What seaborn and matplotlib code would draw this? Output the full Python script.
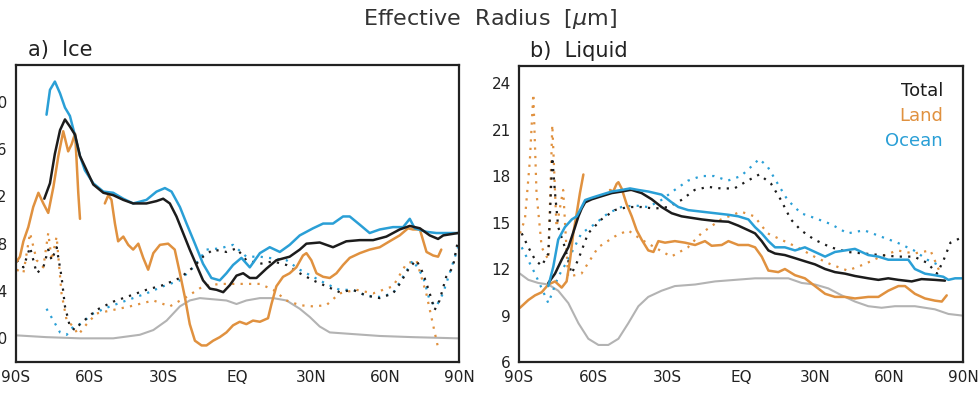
"""Effective radius of ice and liquid clouds by latitude, total/land/ocean."""

import matplotlib.pyplot as plt
import seaborn as sns
import numpy as np

# ---------------- a) Ice ----------------
ice_ocean_lat = [-77.6, -76.2, -74.2, -72.1, -70.1, -68.1, -66.0, -64.0, -62.0, -58.6, -54.5, -50.5,
                 -46.4, -42.4, -37.0, -32.9, -29.5, -26.8, -23.4, -20.7, -17.3, -14.0, -10.6, -7.2,
                 -4.5, -1.8, 1.6, 5.0, 9.1, 13.1, 17.2, 21.2, 25.3, 30.7, 34.8, 38.8, 42.9, 45.6,
                 49.7, 53.7, 57.8, 63.2, 67.3, 70.0, 72.0, 76.8, 80.8, 84.8, 89.6]
ice_ocean = [38.9, 41.0, 41.7, 40.7, 39.5, 38.8, 37.1, 35.4, 34.2, 33.1, 32.4, 32.3,
             31.8, 31.4, 31.7, 32.4, 32.7, 32.4, 31.1, 29.7, 28.0, 26.3, 25.1, 24.9,
             25.5, 26.2, 26.8, 26.0, 27.2, 27.7, 27.3, 27.9, 28.7, 29.3, 29.7, 29.7, 30.3, 30.3,
             29.6, 28.9, 29.2, 29.4, 29.4, 30.1, 29.3, 29.0, 28.9, 28.9, 28.9]

ice_total_lat = [-78.5, -76.2, -74.2, -72.1, -70.1, -68.1, -66.0, -64.0, -58.6, -54.5, -50.5, -46.4,
                 -42.4, -37.0, -32.9, -30.2, -27.5, -24.8, -22.1, -19.4, -16.7, -14.0, -11.2, -8.5,
                 -5.8, -3.1, -0.4, 2.3, 5.0, 7.7, 11.8, 15.8, 21.2, 25.3, 28.0, 33.4, 38.8, 44.2,
                 49.7, 55.1, 60.5, 65.9, 70.0, 74.1, 78.1, 81.5, 83.6, 89.6]
ice_total = [31.8, 33.1, 35.6, 37.6, 38.5, 37.9, 37.2, 35.4, 33.0, 32.3, 32.1, 31.7,
             31.4, 31.4, 31.6, 31.8, 31.4, 30.3, 28.9, 27.5, 26.2, 24.9, 24.2, 24.1,
             23.9, 24.5, 25.3, 25.5, 25.1, 25.1, 25.9, 26.6, 26.9, 27.5, 28.0, 28.1, 27.7, 28.2,
             28.3, 28.3, 28.6, 29.2, 29.5, 29.3, 28.7, 28.4, 28.7, 28.9]

ice_land_lat_1 = [-89.7, -88.4, -87.0, -85.0, -83.0, -80.9, -78.9, -76.9, -74.8, -72.8, -70.8,
                  -68.8, -67.4, -66.0, -65.4, -64.7, -64.0]
ice_land_1 = [26.5, 26.9, 28.2, 29.4, 31.1, 32.3, 31.4, 30.6, 32.8, 35.4, 37.5,
              35.8, 36.4, 37.3, 35.1, 32.3, 30.1]
ice_land_lat_2 = [-53.9, -52.5, -51.2, -49.8, -48.5, -46.4, -44.4, -42.4, -40.3, -38.3, -36.3, -34.2,
                  -31.5, -28.2, -25.5, -23.4, -21.4, -19.4, -17.3, -14.6, -12.6, -9.9, -7.2, -4.5,
                  -1.8, 0.9, 3.6, 6.3, 9.1, 12.4, 13.8, 15.8, 18.5, 21.2, 23.9, 26.6, 28.0, 30.0,
                  32.1, 34.8, 37.5, 40.2, 42.9, 45.6, 49.7, 53.7, 57.8, 61.8, 65.9, 69.3, 71.3,
                  74.1, 76.8, 79.5, 81.5, 82.8]
ice_land_2 = [31.4, 32.1, 31.7, 29.7, 28.2, 28.6, 27.9, 27.5, 28.0, 26.8, 25.8, 27.2,
              27.9, 28.0, 27.5, 25.5, 23.5, 21.2, 19.8, 19.4, 19.4, 19.8, 20.1, 20.5,
              21.1, 21.4, 21.2, 21.5, 21.4, 21.7, 22.9, 24.4, 25.2, 25.5, 26.0, 27.0, 27.2, 26.6,
              25.5, 25.2, 25.1, 25.5, 26.2, 26.8, 27.2, 27.5, 27.7, 28.2, 28.7, 29.3, 29.2,
              29.2, 27.3, 27.0, 26.9, 27.5]

ice_grey_lat = [-89.7, -77.6, -64.0, -50.5, -39.7, -34.2, -28.8, -23.4, -19.4, -15.3, -9.9, -4.5,
                -0.4, 3.6, 9.1, 14.5, 19.9, 25.3, 29.4, 33.4, 37.5, 44.2, 57.8, 71.3, 89.6]
ice_grey = [20.25, 20.1, 20.0, 20.0, 20.3, 20.7, 21.5, 22.7, 23.2, 23.4, 23.3, 23.2,
            22.9, 23.2, 23.4, 23.4, 23.2, 22.5, 21.8, 21.0, 20.5, 20.4, 20.2, 20.1, 20.0]

ice_total_dot_lat = [-89.7, -87.0, -84.3, -81.6, -78.9, -76.9, -75.5, -73.5, -71.5, -70.1, -68.1, -66.0,
                     -64.0, -57.3, -50.5, -43.7, -37.0, -30.2, -23.4, -18.0, -14.0, -9.9, -4.5, -0.4,
                     3.6, 9.1, 14.5, 19.9, 25.3, 30.7, 36.1, 41.5, 46.9, 52.4, 57.8, 63.2, 65.9, 69.9,
                     72.7, 75.4, 78.1, 80.1, 82.1, 84.8, 87.5, 89.6]
ice_total_dot = [26.6, 26.0, 27.7, 25.5, 26.0, 27.5, 26.6, 27.7, 25.2, 22.7, 21.0, 20.7,
                 21.2, 22.4, 23.1, 23.6, 24.1, 24.5, 25.1, 26.0, 26.9, 27.5, 27.3, 27.6,
                 26.6, 26.3, 26.5, 26.2, 25.5, 24.9, 24.4, 23.9, 24.1, 23.6, 23.4, 23.8, 24.6, 26.0,
                 26.6, 25.5, 23.8, 22.4, 23.2, 25.2, 26.0, 28.3]
ice_ocean_dot_lat = [-77.6, -74.8, -72.1, -69.4, -66.7, -64.0, -58.6, -51.8, -45.1, -37.0, -30.2, -23.4,
                     -18.0, -12.6, -7.2, -1.8, 3.6, 9.1, 14.5, 19.9, 25.3, 30.7, 36.1, 41.5, 46.9,
                     52.4, 57.8, 63.2, 67.2, 71.3, 75.4, 78.1, 80.8, 83.5, 86.2, 89.6]
ice_ocean_dot = [22.5, 21.5, 20.5, 20.3, 21.0, 21.2, 22.1, 22.7, 23.2, 23.8, 24.4, 24.9,
                 26.0, 27.5, 27.6, 27.9, 26.9, 26.9, 26.75, 26.6, 25.8, 25.2, 24.6, 24.1, 24.1,
                 23.6, 23.5, 23.8, 25.2, 26.6, 25.2, 23.2, 22.7, 23.8, 25.5, 27.7]
ice_land_dot_lat = [-89.7, -87.0, -84.3, -81.6, -78.9, -76.9, -75.5, -73.5, -71.5, -69.4, -66.7, -64.7,
                    -61.3, -57.3, -50.5, -43.7, -34.2, -27.5, -20.7, -14.0, -7.2, 0.9, 9.1, 14.5,
                    19.9, 25.3, 30.7, 36.1, 41.5, 48.3, 55.1, 63.2, 68.6, 72.7, 76.7, 79.4, 81.4]
ice_land_dot = [25.8, 25.5, 28.9, 26.6, 26.0, 28.9, 26.6, 28.6, 23.8, 21.5, 21.0, 20.3,
                21.2, 22.1, 22.4, 22.7, 23.2, 22.7, 23.5, 24.4, 24.6, 24.6, 24.6, 24.1,
                23.2, 22.8, 22.7, 22.8, 23.8, 24.1, 23.8, 24.4, 26.3, 26.6, 23.8, 21.2, 19.3]

# ---------------- b) Liquid ----------------
liq_total_lat = [-78.1, -75.4, -72.7, -70.0, -67.3, -65.9, -64.6, -63.2, -60.5, -56.5, -52.4, -48.4,
                 -45.0, -44.3, -40.3, -36.2, -32.2, -28.1, -24.1, -20.0, -15.9, -10.5, -5.1, -1.1,
                 3.0, 5.7, 8.4, 11.1, 13.8, 17.8, 21.9, 25.9, 30.0, 34.1, 38.1, 42.2, 46.2, 51.6,
                 55.7, 59.7, 63.8, 69.2, 73.2, 78.6, 82.7]
liq_total = [11.1, 11.7, 12.6, 13.4, 14.7, 15.4, 15.9, 16.3, 16.5, 16.7, 16.9, 17.0,
             17.1, 17.1, 16.9, 16.5, 16.0, 15.6, 15.4, 15.3, 15.2, 15.1, 15.05, 14.8,
             14.5, 14.3, 13.8, 13.2, 13.0, 12.9, 12.7, 12.5, 12.3, 12.0, 11.8, 11.7, 11.55, 11.4,
             11.3, 11.4, 11.3, 11.2, 11.35, 11.3, 11.25]

liq_ocean_lat = [-78.1, -76.1, -74.1, -71.4, -68.6, -66.6, -64.6, -63.2, -60.5, -56.5, -52.4, -48.4,
                 -45.0, -41.6, -37.6, -32.2, -28.1, -25.4, -21.4, -15.9, -10.5, -5.1, -1.1, 3.0,
                 5.7, 8.4, 11.1, 13.8, 17.8, 21.9, 25.9, 30.0, 34.1, 38.1, 42.2, 46.2, 51.6, 55.7,
                 59.7, 63.8, 67.8, 70.5, 74.6, 78.6, 82.0, 84.1, 86.8, 89.5]
liq_ocean = [10.9, 12.15, 13.9, 14.7, 15.2, 15.4, 16.0, 16.45, 16.6, 16.8, 17.0, 17.1,
             17.2, 17.1, 17.0, 16.8, 16.3, 16.0, 15.8, 15.7, 15.6, 15.5, 15.4, 15.2,
             14.7, 14.3, 13.8, 13.4, 13.4, 13.2, 13.4, 13.1, 12.8, 13.1, 13.2, 13.3, 12.9, 12.8,
             12.6, 12.6, 12.6, 12.0, 11.7, 11.6, 11.5, 11.3, 11.4, 11.4]

liq_land_lat_1 = [-89.6, -86.2, -83.5, -80.8, -78.1, -75.4, -72.7, -70.7, -69.3, -68.0, -66.6,
                  -65.3, -63.9]
liq_land_1 = [9.5, 10.0, 10.3, 10.5, 11.0, 11.2, 10.8, 11.2, 12.6, 14.3, 15.6, 16.9, 18.1]
liq_land_lat_2 = [-53.1, -51.8, -50.4, -49.7, -48.4, -46.4, -44.3, -42.3, -40.3, -37.6, -35.5, -33.5,
                  -30.8, -26.8, -22.7, -18.6, -14.6, -11.9, -7.8, -5.1, -1.1, 3.0, 5.7, 8.4, 11.1,
                  15.1, 17.8, 21.9, 25.9, 30.0, 34.1, 38.1, 42.2, 46.2, 51.6, 55.7, 59.7, 63.8,
                  66.5, 70.5, 74.6, 78.6, 81.4, 83.4]
liq_land_2 = [17.1, 17.0, 17.5, 17.6, 17.2, 16.2, 15.4, 14.5, 13.9, 13.2, 13.1, 13.8,
              13.7, 13.8, 13.7, 13.55, 13.8, 13.5, 13.55, 13.8, 13.55, 13.55, 13.4, 12.8, 11.9,
              11.8, 12.0, 11.6, 11.4, 10.9, 10.4, 10.2, 10.2, 10.1, 10.2, 10.2, 10.6, 10.9,
              10.9, 10.4, 10.1, 9.96, 9.9, 10.3]

liq_grey_lat = [-89.6, -86.2, -82.2, -78.1, -74.1, -70.0, -65.9, -61.9, -57.8, -53.8, -49.7, -45.7,
                -41.6, -37.6, -32.2, -26.8, -18.6, -10.5, -2.4, 5.7, 13.8, 19.2, 24.6, 30.0, 35.4,
                40.8, 46.2, 51.6, 57.0, 62.4, 70.5, 78.6, 84.1, 89.5]
liq_grey = [11.7, 11.3, 11.1, 11.0, 10.6, 9.8, 8.5, 7.5, 7.1, 7.1, 7.5, 8.5,
            9.6, 10.2, 10.6, 10.9, 11.0, 11.2, 11.3, 11.4, 11.4, 11.4, 11.1, 11.0, 10.75,
            10.3, 9.9, 9.6, 9.5, 9.6, 9.6, 9.4, 9.1, 9.0]

liq_total_dot_lat = [-88.9, -86.2, -83.5, -80.8, -78.1, -76.5, -75.4, -74.1, -71.4, -68.7, -66.0, -62.0,
                     -56.6, -51.2, -45.8, -40.4, -35.0, -29.6, -24.2, -18.8, -13.4, -8.1, -2.7, 2.7,
                     7.4, 12.2, 16.2, 20.2, 24.3, 29.7, 36.4, 43.2, 49.9, 56.6, 63.4, 70.1, 75.5,
                     79.5, 82.2, 84.9, 89.0]
liq_total_dot = [14.3, 13.4, 12.6, 12.2, 13.0, 19.2, 16.9, 14.7, 13.4, 11.7, 12.6, 14.3,
                 15.2, 15.8, 16.0, 16.0, 15.9, 16.0, 16.45, 17.1, 17.3, 17.2, 17.2, 17.7,
                 18.1, 17.5, 16.45, 15.2, 14.5, 13.9, 13.4, 13.1, 13.0, 12.9, 12.8, 12.8, 12.4,
                 11.7, 12.6, 13.7, 14.0]
liq_ocean_dot_lat = [-88.9, -83.5, -78.1, -74.1, -70.1, -64.7, -59.3, -53.9, -48.5, -43.1, -37.7, -32.3,
                     -26.9, -21.5, -16.1, -10.8, -5.4, 0.0, 4.1, 7.4, 10.8, 14.9, 18.9, 24.3, 29.7,
                     36.4, 43.2, 49.9, 56.6, 63.4, 70.1, 75.5, 80.9]
liq_ocean_dot = [13.4, 11.7, 9.8, 11.5, 12.6, 14.3, 14.9, 15.6, 16.0, 16.1, 16.0, 16.45,
                 17.1, 17.7, 18.0, 18.0, 17.7, 18.0, 18.6, 19.1, 18.6, 17.5, 16.45, 15.6, 15.3,
                 14.9, 14.3, 14.5, 14.1, 13.7, 13.2, 12.6, 12.2]
liq_land_dot_lat = [-89.6, -87.6, -85.6, -84.2, -82.9, -80.8, -78.1, -76.5, -74.8, -72.1, -70.1, -64.7,
                    -57.9, -51.2, -45.8, -40.4, -35.0, -28.3, -21.5, -16.1, -8.1, 0.0, 5.4, 10.8,
                    16.2, 22.9, 29.7, 36.4, 43.2, 49.9, 56.6, 63.4, 70.1, 76.8, 80.9]
liq_land_dot = [14.3, 15.2, 19.0, 23.3, 16.9, 13.4, 12.6, 21.3, 14.7, 17.1, 11.5, 11.7,
                13.4, 14.1, 14.5, 13.9, 13.4, 12.8, 13.4, 14.3, 15.2, 15.7, 15.4, 14.3,
                13.9, 13.4, 12.8, 12.3, 11.9, 12.3, 12.8, 13.2, 13.0, 13.2, 11.7]

lat_ticks = [-90, -60, -30, 0, 30, 60, 90]
lat_labels = ["90S", "60S", "30S", "EQ", "30N", "60N", "90N"]
ice_ticks = [20, 24, 28, 32, 36, 40]
liq_ticks = [6, 9, 12, 15, 18, 21, 24]
legend_names = ["Total", "Land", "Ocean"]

C_TOTAL = "#1c1c1c"
C_LAND = "#e0913f"
C_OCEAN = "#2a9fd6"
C_GREY = "#b3b3b3"
DOT = (0, (1, 2.8))


def draw(ax, x, y, color, dotted=False, lw=1.8):
    sns.lineplot(x=np.array(x), y=np.array(y), ax=ax, color=color, sort=False,
                 estimator=None, linewidth=1.6 if dotted else lw,
                 linestyle=DOT if dotted else "-")


def style_axis(ax, ticks, ylim):
    ax.set_xlim(-90, 90)
    ax.set_ylim(*ylim)
    ax.set_xticks(lat_ticks)
    ax.set_xticklabels(lat_labels)
    ax.set_yticks(ticks)
    ax.set_xlabel("")
    ax.set_ylabel("")
    for s in ax.spines.values():
        s.set_linewidth(1.6)
        s.set_color("#222222")
    ax.tick_params(axis="both", direction="out", length=4, width=1.2,
                   labelsize=11, colors="#222222", top=False, right=False, pad=2)


sns.set_theme(style="white")
plt.rcParams["font.family"] = ["DejaVu Sans"]

fig = plt.figure(figsize=(9.8, 3.93), dpi=100)
ax1 = fig.add_axes([16 / 980, 31 / 393, 443 / 980, 297 / 393])
ax2 = fig.add_axes([519 / 980, 31 / 393, 444 / 980, 296 / 393])

# ice panel
draw(ax1, ice_grey_lat, ice_grey, C_GREY, lw=1.5)
draw(ax1, ice_land_dot_lat, ice_land_dot, C_LAND, dotted=True)
draw(ax1, ice_ocean_dot_lat, ice_ocean_dot, C_OCEAN, dotted=True)
draw(ax1, ice_total_dot_lat, ice_total_dot, C_TOTAL, dotted=True)
draw(ax1, ice_land_lat_1, ice_land_1, C_LAND)
draw(ax1, ice_land_lat_2, ice_land_2, C_LAND)
draw(ax1, ice_ocean_lat, ice_ocean, C_OCEAN)
draw(ax1, ice_total_lat, ice_total, C_TOTAL)
style_axis(ax1, ice_ticks, (18, 43.1))

# liquid panel
draw(ax2, liq_grey_lat, liq_grey, C_GREY, lw=1.5)
draw(ax2, liq_land_dot_lat, liq_land_dot, C_LAND, dotted=True)
draw(ax2, liq_ocean_dot_lat, liq_ocean_dot, C_OCEAN, dotted=True)
draw(ax2, liq_total_dot_lat, liq_total_dot, C_TOTAL, dotted=True)
draw(ax2, liq_land_lat_1, liq_land_1, C_LAND)
draw(ax2, liq_land_lat_2, liq_land_2, C_LAND)
draw(ax2, liq_total_lat, liq_total, C_TOTAL)
draw(ax2, liq_ocean_lat, liq_ocean, C_OCEAN)
style_axis(ax2, liq_ticks, (6, 25.1))

ax1.text(0.027, 1.05, "a)  Ice", transform=ax1.transAxes, fontsize=15,
         ha="left", va="center", color="#222222")
ax2.text(0.025, 1.05, "b)  Liquid", transform=ax2.transAxes, fontsize=15,
         ha="left", va="center", color="#222222")
fig.text(0.5, 0.952, "Effective  Radius  [$\\mu$m]", ha="center", va="center",
         fontsize=16, color="#333333")

for name, col, yy in zip(legend_names, [C_TOTAL, C_LAND, C_OCEAN], [0.916, 0.831, 0.747]):
    ax2.text(0.955, yy, name, transform=ax2.transAxes, ha="right", va="center",
             fontsize=13, color=col)

fig.savefig("out.png", dpi=100)
